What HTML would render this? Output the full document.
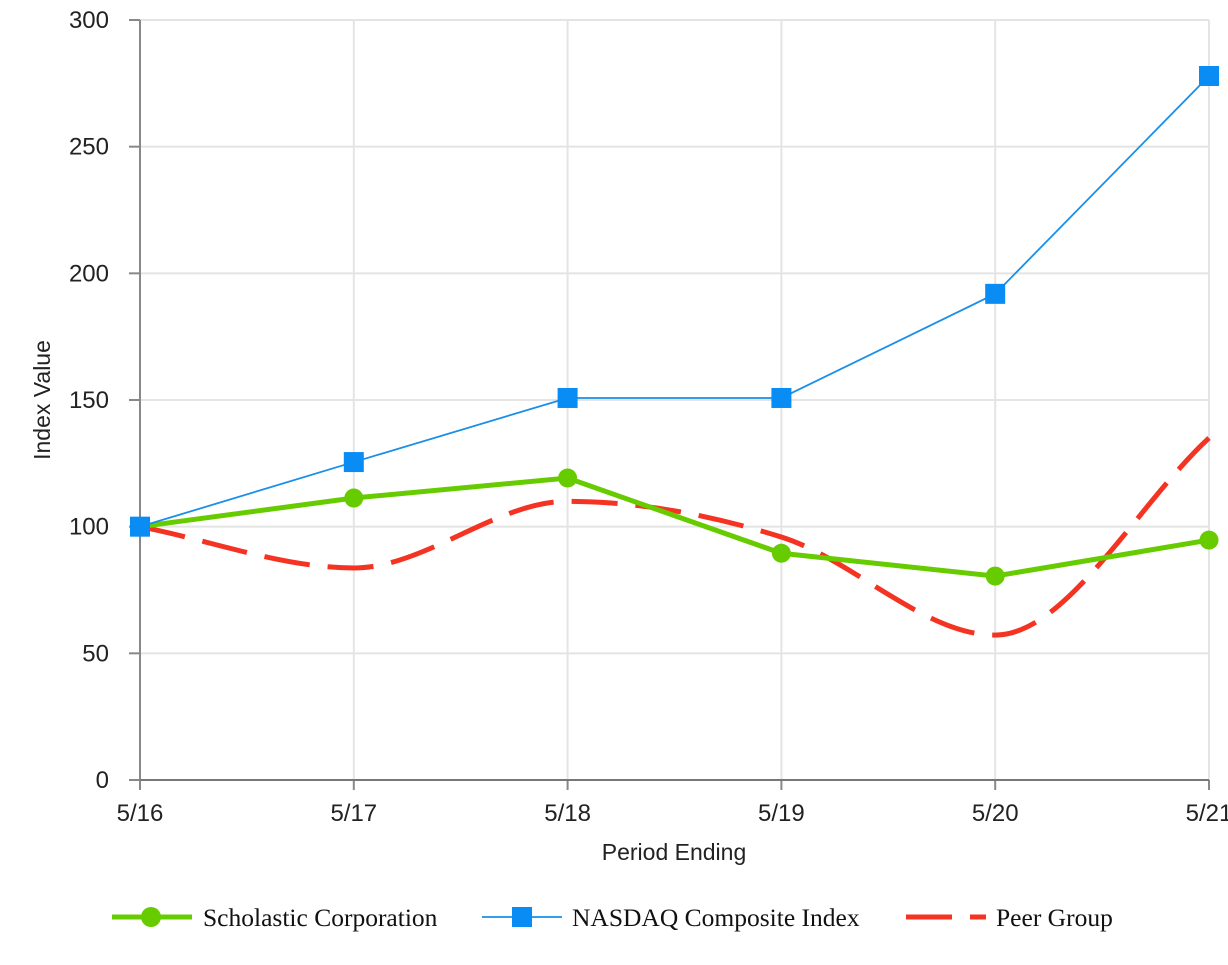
<!DOCTYPE html>
<html><head><meta charset="utf-8"><style>
body{margin:0;background:#fff;}
svg text{font-family:"Liberation Sans",sans-serif;fill:#222;}
.leg{font-family:"Liberation Serif",serif;font-size:25.5px;fill:#111;}
</style></head><body>
<svg id="chart" width="1228" height="960">
<g id="grid"></g><g id="axes"></g><g id="series"></g>
<text x="674" y="860" font-size="23" text-anchor="middle">Period Ending</text>
<text transform="translate(50,400) rotate(-90)" font-size="23" text-anchor="middle">Index Value</text>
<g>
<g><line x1="112" y1="917" x2="192" y2="917" stroke="#66cc00" stroke-width="5"/><circle cx="151" cy="917" r="10" fill="#66cc00"/><text class="leg" x="203" y="926">Scholastic Corporation</text></g>
<g><line x1="482" y1="917" x2="562" y2="917" stroke="#1a8fe8" stroke-width="1.8"/><rect x="512" y="907" width="20" height="20" fill="#0a8cf5"/><text class="leg" x="572" y="926">NASDAQ Composite Index</text></g>
<g><line x1="906" y1="917" x2="986" y2="917" stroke="#f53322" stroke-width="5" stroke-dasharray="46,18"/><text class="leg" x="996" y="926">Peer Group</text></g>
</g>
</svg>
<script>
const categories=["5/16","5/17","5/18","5/19","5/20","5/21"];
const scholastic=[100,111.3,119.2,89.5,80.5,94.7];
const nasdaq=[100,125.5,150.8,150.8,191.9,277.9];
const peer=[100,83.7,110,95.9,57.2,135];
const yTicks=[0,50,100,150,200,250,300];
const NS="http://www.w3.org/2000/svg";
const x0=140,x1=1209,yb=780,yt=20;
const xs=i=>x0+i*(x1-x0)/(categories.length-1);
const ys=v=>yb-(v/300)*(yb-yt);
function mk(t,a,p){const e=document.createElementNS(NS,t);for(const k in a)e.setAttribute(k,a[k]);p.appendChild(e);return e;}
const grid=document.getElementById('grid'),axes=document.getElementById('axes'),ser=document.getElementById('series');
yTicks.forEach(v=>{
 const y=ys(v);
 if(v>0){const g=mk('line',{x1:x0,x2:x1,y1:y,y2:y,stroke:'#e4e4e4','stroke-width':2},grid);
 
 }
 mk('line',{x1:129,x2:x0,y1:y,y2:y,stroke:'#888','stroke-width':2},axes);
 const t=mk('text',{x:109,y:y+8,'font-size':24,'text-anchor':'end'},axes);t.textContent=v;
 
 
});
categories.forEach((c,i)=>{
 const x=xs(i);
 if(i>0){const g=mk('line',{x1:x,x2:x,y1:yt,y2:yb,stroke:'#e4e4e4','stroke-width':2},grid);
 
 }
 mk('line',{x1:x,x2:x,y1:yb,y2:790,stroke:'#888','stroke-width':2},axes);
 const t=mk('text',{x:x,y:821,'font-size':24,'text-anchor':'middle'},axes);t.textContent=c;
 
 
});
mk('line',{x1:x0,x2:x0,y1:yt,y2:yb,stroke:'#888','stroke-width':2},axes);
mk('line',{x1:x0,x2:x1,y1:yb,y2:yb,stroke:'#777','stroke-width':2},axes);
function monotone(pts){
 const n=pts.length,d=[],m=[];
 for(let i=0;i<n-1;i++)d.push((pts[i+1][1]-pts[i][1])/(pts[i+1][0]-pts[i][0]));
 m[0]=d[0];m[n-1]=d[n-2];
 for(let i=1;i<n-1;i++)m[i]=(d[i-1]*d[i]<=0)?0:(d[i-1]+d[i])/2;
 for(let i=0;i<n-1;i++){if(d[i]===0){m[i]=m[i+1]=0;continue;}const a=m[i]/d[i],b=m[i+1]/d[i],s=a*a+b*b;if(s>9){const t=3/Math.sqrt(s);m[i]=t*a*d[i];m[i+1]=t*b*d[i];}}
 let s='M'+pts[0][0]+','+pts[0][1];
 for(let i=0;i<n-1;i++){const h=(pts[i+1][0]-pts[i][0])/3;
 s+=` C${pts[i][0]+h},${pts[i][1]+m[i]*h} ${pts[i+1][0]-h},${pts[i+1][1]-m[i+1]*h} ${pts[i+1][0]},${pts[i+1][1]}`;}
 return s;}
const pp=mk('path',{d:monotone(peer.map((v,i)=>[xs(i),ys(v)])),fill:'none',stroke:'#f53322','stroke-width':5,'stroke-dasharray':'46,18'},ser);


const sl=mk('polyline',{points:scholastic.map((v,i)=>xs(i)+','+ys(v)).join(' '),fill:'none',stroke:'#66cc00','stroke-width':5},ser);


scholastic.forEach((v,i)=>{const c=mk('circle',{cx:xs(i),cy:ys(v),r:9.5,fill:'#66cc00'},ser);
 
 });
const nl=mk('polyline',{points:nasdaq.map((v,i)=>xs(i)+','+ys(v)).join(' '),fill:'none',stroke:'#1a8fe8','stroke-width':1.8},ser);


nasdaq.forEach((v,i)=>{const r=mk('rect',{x:xs(i)-10,y:ys(v)-10,width:20,height:20,fill:'#0a8cf5'},ser);
 
 });
</script>
</body></html>
